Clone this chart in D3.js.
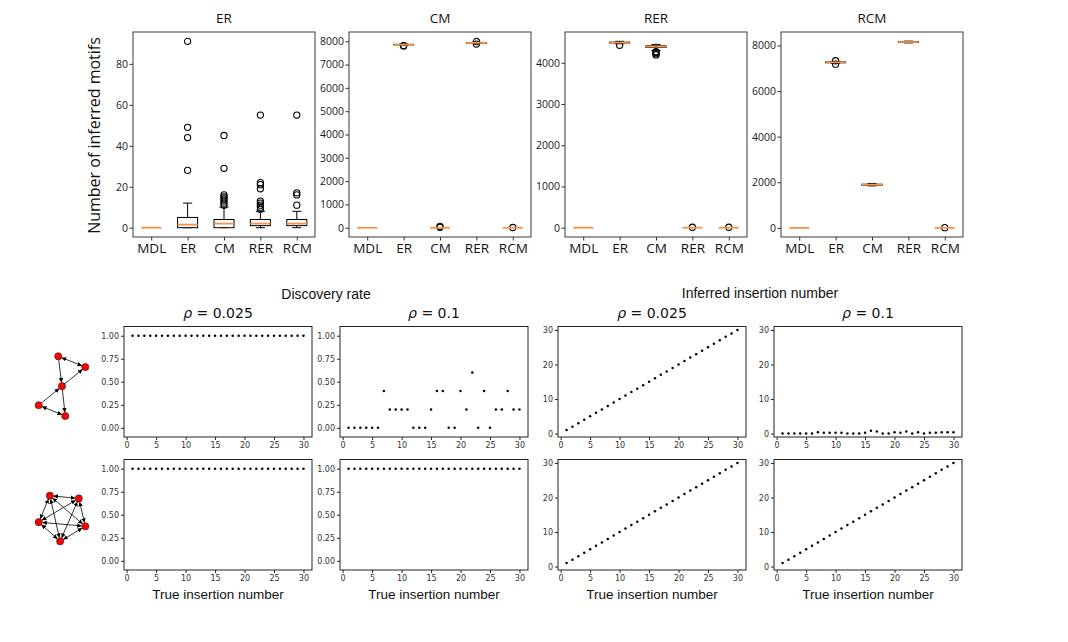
<!DOCTYPE html>
<html>
<head>
<meta charset="utf-8">
<script src="https://cdn.jsdelivr.net/npm/d3@7"></script>
<style>
	body { margin: 0; background: #fff; }
	svg { display: block; }
	.top-axis text { font-family: "Open Sans", "Noto Sans", sans-serif; fill: #1a1a1a; }
	.bot-axis text { font-family: "DejaVu Sans", sans-serif; fill: #333; }
</style>
</head>
<body>
<svg id="chart" width="1068" height="642"></svg>
<script>
// ---- top row: box plots of inferred motif counts ----
var methods = ['MDL', 'ER', 'CM', 'RER', 'RCM'];
var panelTitles = ['ER', 'CM', 'RER', 'RCM'];

// [low whisker, q1, median, q3, high whisker] for each method
var statsER = [[0, 0, 0, 0, 0], [0, 0, 1.5, 5, 12], [0, 0, 2, 4, 10], [0, 1, 2, 4, 8], [0, 1, 2, 4, 8]];
var fliersER = [[], [28, 44, 49, 91], [11, 12, 13, 14, 15, 16, 29, 45], [9, 10, 11, 12, 13, 19, 21, 22, 55], [11, 16, 17, 55]];

var statsCM = [[0, 0, 0, 0, 0], [7830, 7845, 7855, 7865, 7880], [0, 0, 0, 0, 0], [7910, 7925, 7935, 7945, 7960], [0, 0, 0, 0, 0]];
var fliersCM = [[], [7800, 7815], [20, 60], [7880, 7990], [10]];

var statsRER = [[0, 0, 0, 0, 0], [4460, 4480, 4490, 4500, 4520], [4300, 4370, 4390, 4410, 4445], [0, 0, 0, 0, 0], [0, 0, 0, 0, 0]];
var fliersRER = [[], [4425], [4190, 4220, 4250, 4270], [10], [10]];

var statsRCM = [[0, 0, 0, 0, 0], [7210, 7240, 7260, 7280, 7300], [1840, 1865, 1890, 1915, 1940], [8110, 8135, 8150, 8165, 8190], [0, 0, 0, 0, 0]];
var fliersRCM = [[], [7180, 7330], [], [], [10]];

var yDomainsTop = [[-4.55, 95.55], [-397, 8397], [-226, 4746], [-400, 8590]];
var yTicksTop = [
	[0, 20, 40, 60, 80],
	[0, 1000, 2000, 3000, 4000, 5000, 6000, 7000, 8000],
	[0, 1000, 2000, 3000, 4000],
	[0, 2000, 4000, 6000, 8000]
];

// ---- bottom rows: scatter plots vs. true insertion number ----
var trueInsertion = [1, 2, 3, 4, 5, 6, 7, 8, 9, 10, 11, 12, 13, 14, 15, 16, 17, 18, 19, 20, 21, 22, 23, 24, 25, 26, 27, 28, 29, 30];

var discoveryA025 = [1, 1, 1, 1, 1, 1, 1, 1, 1, 1, 1, 1, 1, 1, 1, 1, 1, 1, 1, 1, 1, 1, 1, 1, 1, 1, 1, 1, 1, 1];
var discoveryA10 = [0, 0, 0, 0, 0, 0, 0.4, 0.2, 0.2, 0.2, 0.2, 0, 0, 0, 0.2, 0.4, 0.4, 0, 0, 0.4, 0.2, 0.6, 0, 0.4, 0, 0.2, 0.2, 0.4, 0.2, 0.2];
var discoveryB025 = [1, 1, 1, 1, 1, 1, 1, 1, 1, 1, 1, 1, 1, 1, 1, 1, 1, 1, 1, 1, 1, 1, 1, 1, 1, 1, 1, 1, 1, 1];
var discoveryB10 = [1, 1, 1, 1, 1, 1, 1, 1, 1, 1, 1, 1, 1, 1, 1, 1, 1, 1, 1, 1, 1, 1, 1, 1, 1, 1, 1, 1, 1, 1];

var inferredA025 = [1, 2, 3, 4, 5, 6, 7, 8, 9, 10, 11, 12, 13, 14, 15, 16, 17, 18, 19, 20, 21, 22, 23, 24, 25, 26, 27, 28, 29, 30];
var inferredA10 = [0, 0, 0, 0, 0, 0, 0.4, 0.2, 0.2, 0.2, 0.2, 0, 0, 0, 0.2, 0.8, 0.6, 0, 0, 0.4, 0.2, 0.6, 0, 0.4, 0, 0.2, 0.2, 0.4, 0.4, 0.4];
var inferredB025 = [1, 2, 3, 4, 5, 6, 7, 8, 9, 10, 11, 12, 13, 14, 15, 16, 17, 18, 19, 20, 21, 22, 23, 24, 25, 26, 27, 28, 29, 30];
var inferredB10 = [1, 2, 3, 4, 5, 6, 7, 8, 9, 10, 11, 12, 13, 14, 15, 16, 17, 18, 19, 20, 21, 22, 23, 24, 25, 26, 27, 28, 29, 30];

var rhoLabels = ['0.025', '0.1', '0.025', '0.1'];
var xTicksBottom = [0, 5, 10, 15, 20, 25, 30];
var yTicksDiscovery = [0, 0.25, 0.5, 0.75, 1];
var yTicksInferred = [0, 10, 20, 30];

// motif drawings (unit coordinates) and their edges: [from, to, both ways]
var motifNodesA = [[0.42, 0], [1, 0.18], [0.5, 0.5], [0, 0.82], [0.57, 1]];
var motifEdgesA = [[0, 1, true], [0, 2, false], [2, 1, false], [3, 2, false], [2, 4, false], [3, 4, true]];
var motifNodesB = [[0.24, 0], [0.86, 0.06], [0, 0.58], [1, 0.67], [0.46, 1]];
var motifEdgesB = [[0, 1, true], [0, 2, true], [0, 3, true], [0, 4, true], [1, 2, true], [1, 3, true], [1, 4, true], [2, 3, true], [2, 4, true], [3, 4, true]];

var svg = d3.select('#chart');

var defs = svg.append('defs');
defs.append('marker')
	.attr('id', 'arrow')
	.attr('viewBox', '0 0 10 10')
	.attr('refX', 10)
	.attr('refY', 5)
	.attr('markerWidth', 4.5)
	.attr('markerHeight', 4.5)
	.attr('markerUnits', 'userSpaceOnUse')
	.attr('orient', 'auto-start-reverse')
	.append('path')
		.attr('d', 'M0,0L10,5L0,10z')
		.attr('fill', '#000');

// ================= top row =================
var topLefts = [133, 349, 565, 781],
	topW = 182,
	topY = 32,
	topH = 205;

var allStats = [statsER, statsCM, statsRER, statsRCM],
	allFliers = [fliersER, fliersCM, fliersRER, fliersRCM];

topLefts.forEach(function (left, p) {
	var g = svg.append('g').attr('transform', 'translate(' + left + ',' + topY + ')');

	var x = d3.scaleLinear().domain([0.5, 5.5]).range([0, topW]);
	var y = d3.scaleLinear().domain(yDomainsTop[p]).range([topH, 0]);
	var boxW = x(1.55) - x(1);
	var capW = x(1.25) - x(1);

	var yAxis = d3.axisLeft(y)
		.tickValues(yTicksTop[p])
		.tickFormat(d3.format('d'))
		.tickSize(3.5)
		.tickPadding(1.5);

	var ya = g.append('g').attr('class', 'top-axis').call(yAxis);
	ya.select('.domain').remove();
	ya.selectAll('line').attr('stroke', '#333');
	ya.selectAll('text').style('font-size', '10.5px');

	var xAxis = d3.axisBottom(x)
		.tickValues([1, 2, 3, 4, 5])
		.tickFormat(function (d) { return methods[d - 1]; })
		.tickSize(3.5)
		.tickPadding(3);

	var xa = g.append('g').attr('class', 'top-axis')
		.attr('transform', 'translate(0,' + topH + ')')
		.call(xAxis);
	xa.select('.domain').remove();
	xa.selectAll('line').attr('stroke', '#333');
	xa.selectAll('text').style('font-size', '13.5px').style('fill', '#111');

	var boxes = g.selectAll('.box')
		.data(allStats[p].map(function (s, i) { return { pos: i + 1, s: s, fl: allFliers[p][i] }; }))
		.enter().append('g').classed('box', true);

	// whiskers, caps and box
	boxes.each(function (d) {
		var b = d3.select(this),
			cx = x(d.pos);

		if (d.s[4] === d.s[0]) { return; }

		b.append('line')
			.attr('x1', cx).attr('x2', cx)
			.attr('y1', y(d.s[0])).attr('y2', y(d.s[1]))
			.attr('stroke', '#000').attr('stroke-width', 1);
		b.append('line')
			.attr('x1', cx).attr('x2', cx)
			.attr('y1', y(d.s[3])).attr('y2', y(d.s[4]))
			.attr('stroke', '#000').attr('stroke-width', 1);
		[d.s[0], d.s[4]].forEach(function (v) {
			b.append('line')
				.attr('x1', cx - capW / 2).attr('x2', cx + capW / 2)
				.attr('y1', y(v)).attr('y2', y(v))
				.attr('stroke', '#000').attr('stroke-width', 1);
		});
		b.append('rect')
			.attr('x', cx - boxW / 2)
			.attr('y', y(d.s[3]))
			.attr('width', boxW)
			.attr('height', Math.max(0, y(d.s[1]) - y(d.s[3])))
			.attr('fill', '#fff')
			.attr('stroke', '#000')
			.attr('stroke-width', 1);
	});

	// fliers
	boxes.selectAll('circle')
		.data(function (d) { return d.fl.map(function (v) { return { pos: d.pos, v: v }; }); })
		.enter().append('circle')
			.attr('cx', function (d) { return x(d.pos); })
			.attr('cy', function (d) { return y(d.v); })
			.attr('r', 3.1)
			.attr('fill', 'none')
			.attr('stroke', '#000')
			.attr('stroke-width', 1.1);

	// medians
	boxes.append('line')
		.attr('x1', function (d) { return x(d.pos) - boxW / 2; })
		.attr('x2', function (d) { return x(d.pos) + boxW / 2; })
		.attr('y1', function (d) { return y(d.s[2]); })
		.attr('y2', function (d) { return y(d.s[2]); })
		.attr('stroke', '#f7924a')
		.attr('stroke-width', 1.8);

	g.append('rect')
		.attr('width', topW).attr('height', topH)
		.attr('fill', 'none')
		.attr('stroke', '#3a3a3a')
		.attr('stroke-width', 1);

	g.append('text')
		.attr('x', topW / 2)
		.attr('y', -9)
		.attr('text-anchor', 'middle')
		.style('font-family', '"Open Sans", "Noto Sans", sans-serif')
		.style('font-size', '13.5px')
		.attr('fill', '#111')
		.text(panelTitles[p]);
});

svg.append('text')
	.attr('transform', 'translate(100,' + (topY + topH / 2 + 1) + ') rotate(-90)')
	.attr('text-anchor', 'middle')
	.style('font-family', '"Open Sans", "Noto Sans", sans-serif')
	.style('font-size', '16px')
	.attr('fill', '#111')
	.text('Number of inferred motifs');

// ================= bottom rows =================
var botLefts = [124, 340, 558, 774],
	botW = 188,
	botTops = [326.5, 459.5],
	botH = 110.5;

var rowSeries = [
	[discoveryA025, discoveryA10, inferredA025, inferredA10],
	[discoveryB025, discoveryB10, inferredB025, inferredB10]
];

botTops.forEach(function (top, r) {
	botLefts.forEach(function (left, c) {
		var g = svg.append('g').attr('transform', 'translate(' + left + ',' + top + ')');
		var isDiscovery = c < 2;

		var x = d3.scaleLinear().domain([-0.45, 31.45]).range([0, botW]);
		var y = d3.scaleLinear()
			.domain(isDiscovery ? [-0.1, 1.1] : [-1, 31])
			.range([botH, 0]);

		var ya = g.append('g').attr('class', 'bot-axis')
			.call(d3.axisLeft(y)
				.tickValues(isDiscovery ? yTicksDiscovery : yTicksInferred)
				.tickFormat(isDiscovery ? d3.format('.2f') : d3.format('d'))
				.tickSize(3)
				.tickPadding(2));
		ya.select('.domain').remove();
		ya.selectAll('line').attr('stroke', '#222');
		ya.selectAll('text').style('font-size', '8px');

		var xa = g.append('g').attr('class', 'bot-axis')
			.attr('transform', 'translate(0,' + botH + ')')
			.call(d3.axisBottom(x)
				.tickValues(xTicksBottom)
				.tickFormat(d3.format('d'))
				.tickSize(3)
				.tickPadding(2.5));
		xa.select('.domain').remove();
		xa.selectAll('line').attr('stroke', '#222');
		xa.selectAll('text').style('font-size', '8px');

		g.selectAll('.dot')
			.data(rowSeries[r][c])
			.enter().append('circle')
				.classed('dot', true)
				.attr('cx', function (d, i) { return x(trueInsertion[i]); })
				.attr('cy', function (d) { return y(d); })
				.attr('r', 1.25)
				.attr('fill', '#000');

		g.append('rect')
			.attr('width', botW).attr('height', botH)
			.attr('fill', 'none')
			.attr('stroke', '#222')
			.attr('stroke-width', 1);

		if (r === 0) {
			var t = g.append('text')
				.attr('x', botW / 2)
				.attr('y', -8.5)
				.attr('text-anchor', 'middle')
				.style('font-family', '"DejaVu Sans", sans-serif')
				.style('font-size', '14px')
				.attr('fill', '#111');
			t.append('tspan').style('font-style', 'italic').text('\u03c1');
			t.append('tspan').text(' = ' + rhoLabels[c]);
		} else {
			g.append('text')
				.attr('x', botW / 2)
				.attr('y', botH + 29)
				.attr('text-anchor', 'middle')
				.style('font-family', '"Liberation Sans", Arial, sans-serif')
				.style('font-size', '13.5px')
				.attr('fill', '#111')
				.text('True insertion number');
		}
	});
});

svg.append('text')
	.attr('x', (botLefts[0] + botLefts[1] + botW) / 2)
	.attr('y', 299)
	.attr('text-anchor', 'middle')
	.style('font-family', '"Liberation Sans", Arial, sans-serif')
	.style('font-size', '14px')
	.attr('fill', '#111')
	.text('Discovery rate');

svg.append('text')
	.attr('x', (botLefts[2] + botLefts[3] + botW) / 2)
	.attr('y', 298)
	.attr('text-anchor', 'middle')
	.style('font-family', '"Liberation Sans", Arial, sans-serif')
	.style('font-size', '14px')
	.attr('fill', '#111')
	.text('Inferred insertion number');

// ================= motif drawings =================
function drawMotif(nodes, edges, box) {
	var mx = d3.scaleLinear().domain([0, 1]).range([box[0], box[2]]);
	var my = d3.scaleLinear().domain([0, 1]).range([box[1], box[3]]);
	var rNode = 3.6;
	var g = svg.append('g');

	edges.forEach(function (e) {
		var a = nodes[e[0]], b = nodes[e[1]];
		var x1 = mx(a[0]), y1 = my(a[1]), x2 = mx(b[0]), y2 = my(b[1]);
		var len = Math.sqrt((x2 - x1) * (x2 - x1) + (y2 - y1) * (y2 - y1));
		var ux = (x2 - x1) / len, uy = (y2 - y1) / len;
		var line = g.append('line')
			.attr('x1', x1 + ux * (e[2] ? rNode : 0))
			.attr('y1', y1 + uy * (e[2] ? rNode : 0))
			.attr('x2', x2 - ux * rNode)
			.attr('y2', y2 - uy * rNode)
			.attr('stroke', '#000')
			.attr('stroke-width', 0.8)
			.attr('marker-end', 'url(#arrow)');
		if (e[2]) { line.attr('marker-start', 'url(#arrow)'); }
	});

	g.selectAll('circle')
		.data(nodes)
		.enter().append('circle')
			.attr('cx', function (d) { return mx(d[0]); })
			.attr('cy', function (d) { return my(d[1]); })
			.attr('r', rNode)
			.attr('fill', '#ff0000')
			.attr('stroke', '#222')
			.attr('stroke-width', 0.6);
}

drawMotif(motifNodesA, motifEdgesA, [38.7, 356.3, 85.3, 416]);
drawMotif(motifNodesB, motifEdgesB, [38.7, 495.7, 85.3, 541.3]);
</script>
</body>
</html>
